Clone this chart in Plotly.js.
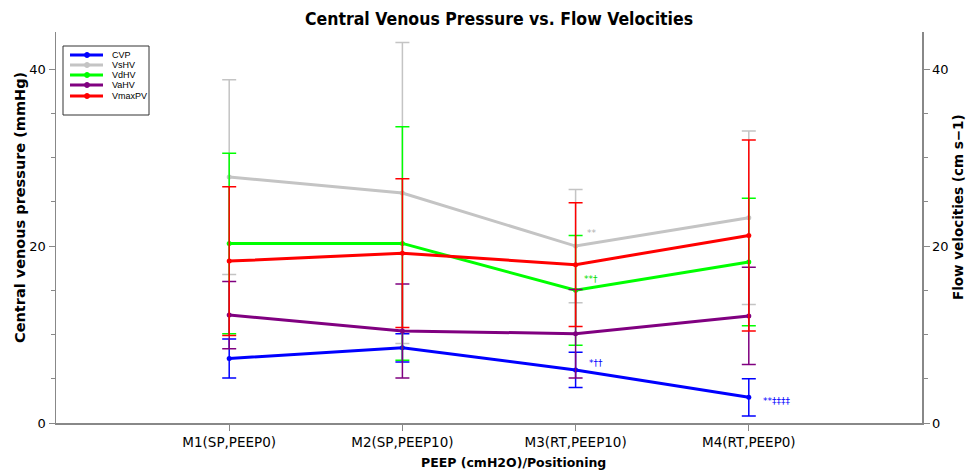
<!DOCTYPE html>
<html>
<head>
<meta charset="utf-8">
<script src="https://cdn.plot.ly/plotly-3.0.1.min.js"></script>
<style>html,body{margin:0;padding:0;background:#fff}#chart{width:966px;height:472px}</style>
</head>
<body>
<div id="chart"></div>
<script>
const categories = ["M1(SP,PEEP0)", "M2(SP,PEEP10)", "M3(RT,PEEP10)", "M4(RT,PEEP0)"];
const positions = [1, 2, 3, 4];

const seriesNames = ["CVP", "VsHV", "VdHV", "VaHV", "VmaxPV"];
const seriesColors = ["#0000ff", "#c4c4c4", "#00ff00", "#800080", "#ff0000"];

const cvp = [7.3, 8.5, 6.0, 2.9];
const cvpErr = [2.2, 1.6, 2.0, 2.1];
const vsHV = [27.8, 26.0, 20.0, 23.2];
const vsHVErr = [11.0, 17.0, 6.4, 9.8];
const vdHV = [20.3, 20.3, 15.0, 18.2];
const vdHVErr = [10.2, 13.2, 6.2, 7.2];
const vaHV = [12.2, 10.4, 10.1, 12.1];
const vaHVErr = [3.8, 5.3, 5.0, 5.5];
const vmaxPV = [18.3, 19.2, 17.9, 21.2];
const vmaxPVErr = [8.4, 8.4, 7.0, 10.8];

const sigLabels = ["**", "**†", "*††", "**‡‡‡‡"];
const sigX = [3, 3, 3, 4];
const sigY = [vsHV[2], vdHV[2], cvp[2], cvp[3]];
const sigColors = ["#b0b0b0", "#00dd00", "#0000ff", "#0000ff"];

// plot area in pixels: left 56, right 922, top 32, bottom 423
const px2x = p => (p - 56) / 866;
const px2y = p => (423 - p) / 391;

function tr(name, y, err, color, axis) {
  return {
    x: positions, y: y, name: name, type: "scatter", mode: "lines+markers",
    yaxis: axis, showlegend: false,
    line: {color: color, width: 3},
    marker: {color: color, size: 5},
    error_y: {type: "data", array: err, visible: true, color: color, thickness: 1.5, width: 7}
  };
}

const data = [
  tr(seriesNames[0], cvp, cvpErr, seriesColors[0], "y"),
  tr(seriesNames[1], vsHV, vsHVErr, seriesColors[1], "y2"),
  tr(seriesNames[2], vdHV, vdHVErr, seriesColors[2], "y2"),
  tr(seriesNames[3], vaHV, vaHVErr, seriesColors[3], "y2"),
  tr(seriesNames[4], vmaxPV, vmaxPVErr, seriesColors[4], "y2")
];

const sigShiftX = [9, 6, 11, 12];
const sigShiftY = [13, 11, 7, -4];
const annotations = sigLabels.map((t, i) => ({
  x: sigX[i], y: sigY[i], xref: "x", yref: "y", text: t, showarrow: false,
  xanchor: "left", yanchor: "middle", xshift: sigShiftX[i], yshift: sigShiftY[i],
  font: {family: "DejaVu Sans", size: 9, color: sigColors[i]}
}));

annotations.push(
  {text: "<b>Central venous pressure (mmHg)</b>", xref: "paper", yref: "paper",
   x: px2x(20), y: px2y(208), textangle: -90, showarrow: false,
   font: {family: "DejaVu Sans", size: 14.5, color: "#000"}, xanchor: "center", yanchor: "middle"},
  {text: "<b>Flow velocities (cm s−1)</b>", xref: "paper", yref: "paper",
   x: px2x(958), y: px2y(207), textangle: -90, showarrow: false,
   font: {family: "DejaVu Sans", size: 13.5, color: "#000"}, xanchor: "center", yanchor: "middle"},
  {text: "<b>PEEP (cmH2O)/Positioning</b>", xref: "paper", yref: "paper",
   x: px2x(513), y: px2y(462), showarrow: false, yanchor: "middle",
   font: {family: "DejaVu Sans", size: 12.5, color: "#000"}}
);

// custom legend (compact box)
const legendRowY = [55, 65, 75, 85, 96];
const shapes = [{
  type: "rect", xref: "paper", yref: "paper",
  x0: px2x(63), x1: px2x(149), y0: px2y(46), y1: px2y(115),
  line: {color: "#333", width: 1}, fillcolor: "#fff", layer: "above"
}];
seriesNames.forEach((n, i) => {
  shapes.push({type: "line", xref: "paper", yref: "paper",
    x0: px2x(70), x1: px2x(103), y0: px2y(legendRowY[i]), y1: px2y(legendRowY[i]),
    line: {color: seriesColors[i], width: 3}, layer: "above"});
  shapes.push({type: "circle", xref: "paper", yref: "paper",
    x0: px2x(84.5), x1: px2x(89.5), y0: px2y(legendRowY[i] - 2.5), y1: px2y(legendRowY[i] + 2.5),
    line: {color: seriesColors[i], width: 1}, fillcolor: seriesColors[i], layer: "above"});
  annotations.push({text: n, xref: "paper", yref: "paper", x: px2x(110), y: px2y(legendRowY[i]),
    xanchor: "left", yanchor: "middle", showarrow: false,
    font: {family: "Liberation Sans", size: 9, color: "#000"}});
});

const axisStyle = {
  range: [0, 44.2], showgrid: false, zeroline: false, showline: true,
  linecolor: "#888", linewidth: 1.5, ticks: "outside", ticklen: 6, tickcolor: "#888",
  tickvals: [0, 20, 40], tickfont: {family: "DejaVu Sans", size: 13, color: "#000"},
  minor: {dtick: 5, ticks: "outside", ticklen: 4, tickcolor: "#888", showgrid: false}
};

const layout = {
  width: 966, height: 472,
  margin: {l: 56, r: 44, t: 32, b: 49},
  paper_bgcolor: "#fff", plot_bgcolor: "#fff",
  title: {text: "<b>Central Venous Pressure vs. Flow Velocities</b>", x: 499 / 966, xanchor: "center",
          y: 1 - 19 / 472, yanchor: "middle",
          font: {family: "DejaVu Sans Condensed, Liberation Sans Narrow, Roboto, sans-serif", size: 17.5, color: "#000"}},
  xaxis: {
    range: [0, 5], tickvals: positions, ticktext: categories,
    showgrid: false, zeroline: false, showline: true, linecolor: "#888", linewidth: 1.5,
    ticks: "outside", ticklen: 6, tickcolor: "#888",
    tickfont: {family: "DejaVu Sans", size: 13.5, color: "#000"}
  },
  yaxis: Object.assign({}, axisStyle),
  yaxis2: Object.assign({}, axisStyle, {overlaying: "y", side: "right"}),
  showlegend: false,
  shapes: shapes,
  annotations: annotations
};

Plotly.newPlot("chart", data, layout, {displayModeBar: false, staticPlot: true});
</script>
</body>
</html>
